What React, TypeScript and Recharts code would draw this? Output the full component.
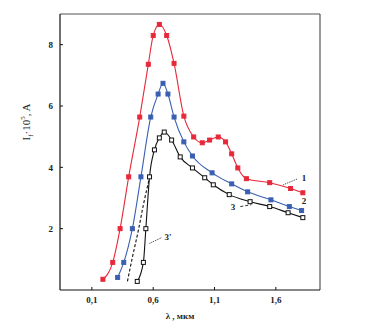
import { LineChart, Line, XAxis, YAxis, ReferenceLine, ReferenceDot } from "recharts";

// curve 1 (red)
const x1 = [0.19, 0.27, 0.33, 0.4, 0.49, 0.56, 0.6, 0.65, 0.71, 0.77, 0.85, 0.93, 1.0, 1.06, 1.13, 1.19, 1.24, 1.29, 1.36, 1.55, 1.72, 1.82];
const y1 = [0.35, 0.9, 2.0, 3.69, 5.64, 7.36, 8.3, 8.66, 8.3, 7.39, 5.67, 4.99, 4.8, 4.89, 4.99, 4.83, 4.44, 3.98, 3.63, 3.5, 3.31, 3.17];

// curve 2 (blue)
const x2 = [0.31, 0.36, 0.43, 0.5, 0.58, 0.64, 0.68, 0.72, 0.77, 0.85, 0.92, 1.08, 1.24, 1.37, 1.56, 1.71, 1.81];
const y2 = [0.41, 0.9, 2.0, 3.69, 5.64, 6.39, 6.74, 6.39, 5.64, 4.83, 4.37, 3.82, 3.46, 3.2, 2.94, 2.72, 2.59];

// curve 3 (black, open squares)
const x3 = [0.47, 0.52, 0.54, 0.57, 0.61, 0.65, 0.69, 0.75, 0.82, 0.92, 1.02, 1.09, 1.22, 1.39, 1.55, 1.7, 1.82];
const y3 = [0.28, 0.9, 2.0, 3.69, 4.57, 4.96, 5.15, 4.89, 4.34, 3.98, 3.66, 3.43, 3.11, 2.88, 2.72, 2.52, 2.36];

// curve 3' (black dashed, rising part)
const x3b = [0.39, 0.43, 0.48, 0.52, 0.57];
const y3b = [0.28, 1.06, 1.97, 2.78, 3.66];

const xTicks = [0.1, 0.6, 1.1, 1.6];
const yTicks = [2, 4, 6, 8];

const toRows = (xs: number[], ys: number[]) => xs.map((x, i) => ({ x, y: ys[i] }));

const FONT = "'Liberation Serif', 'DejaVu Serif', serif";

const square = (color: string, filled: boolean) => (props: any) => {
  const { cx, cy, index } = props;
  if (cx == null || cy == null) return <g key={index} />;
  return (
    <rect
      key={index}
      x={cx - 2}
      y={cy - 2}
      width={4}
      height={4}
      fill={filled ? color : "#fff"}
      stroke={color}
      strokeWidth={1}
    />
  );
};

const tickStyle = { fontFamily: FONT, fontSize: 9, fontWeight: 700, fill: "#222" };

export default function App() {
  return (
    <div style={{ position: "relative", width: 372, height: 333, margin: -8 }}>
      <LineChart width={372} height={333} margin={{ top: 14, right: 52, left: 0, bottom: 0 }}>
        <XAxis
          type="number"
          dataKey="x"
          domain={[-0.16, 1.96]}
          ticks={xTicks}
          tickFormatter={(v: number) => v.toFixed(1).replace(".", ",")}
          height={43}
          tickSize={-3}
          tickMargin={10}
          tick={tickStyle}
          axisLine={{ stroke: "#111", strokeWidth: 1.2 }}
          tickLine={{ stroke: "#111" }}
          allowDataOverflow
        />
        <YAxis
          type="number"
          domain={[0, 9]}
          ticks={yTicks}
          width={60}
          tickSize={-3}
          tickMargin={10}
          tick={tickStyle}
          axisLine={{ stroke: "#111", strokeWidth: 1.2 }}
          tickLine={{ stroke: "#111" }}
          allowDataOverflow
        />
        <ReferenceLine y={9} stroke="#555" strokeWidth={1.2} />
        <ReferenceLine x={1.96} stroke="#555" strokeWidth={1.2} />

        <Line type="monotone" data={toRows(x1, y1)} dataKey="y" stroke="#e8283a" strokeWidth={1.1} dot={square("#e8283a", true)} isAnimationActive={false} />
        <Line type="monotone" data={toRows(x2, y2)} dataKey="y" stroke="#3a5fb0" strokeWidth={1.1} dot={square("#3a5fb0", true)} isAnimationActive={false} />
        <Line type="monotone" data={toRows(x3b, y3b)} dataKey="y" stroke="#111" strokeWidth={1.1} strokeDasharray="3 2" dot={false} isAnimationActive={false} />
        <Line type="monotone" data={toRows(x3, y3)} dataKey="y" stroke="#111" strokeWidth={1.1} dot={square("#111", false)} isAnimationActive={false} />

        <ReferenceLine segment={[{ x: 1.66, y: 3.43 }, { x: 1.78, y: 3.63 }]} stroke="#333" strokeDasharray="1 1" />
        <ReferenceLine segment={[{ x: 1.31, y: 2.72 }, { x: 1.4, y: 2.78 }]} stroke="#333" strokeDasharray="3 2" />
        <ReferenceLine segment={[{ x: 0.57, y: 1.52 }, { x: 0.67, y: 1.71 }]} stroke="#333" strokeDasharray="1 1" />

        <ReferenceDot x={1.83} y={3.66} r={0.1} fill="none" stroke="none" label={{ value: "1", position: "center", style: tickStyle }} />
        <ReferenceDot x={1.83} y={2.91} r={0.1} fill="none" stroke="none" label={{ value: "2", position: "center", style: tickStyle }} />
        <ReferenceDot x={1.25} y={2.72} r={0.1} fill="none" stroke="none" label={{ value: "3", position: "center", style: tickStyle }} />
        <ReferenceDot x={0.72} y={1.74} r={0.1} fill="none" stroke="none" label={{ value: "3'", position: "center", style: tickStyle }} />
      </LineChart>
      <div
        style={{
          position: "absolute",
          left: 180,
          top: 311,
          transform: "translateX(-50%)",
          fontFamily: FONT,
          fontSize: 9,
          fontWeight: 700,
          color: "#222",
          whiteSpace: "nowrap",
        }}
      >
        λ , мкм
      </div>
      <div
        style={{
          position: "absolute",
          left: 27,
          top: 122,
          transform: "translate(-50%, -50%) rotate(-90deg)",
          fontFamily: FONT,
          fontSize: 11,
          color: "#222",
          whiteSpace: "nowrap",
        }}
      >
        I<sub style={{ fontSize: 7 }}>f</sub>·10<sup style={{ fontSize: 7 }}>5</sup>, A
      </div>
    </div>
  );
}
